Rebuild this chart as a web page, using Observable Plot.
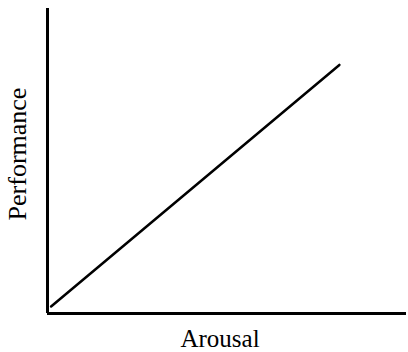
<!DOCTYPE html>
<html>
<head>
<meta charset="utf-8">
<script src="https://cdn.jsdelivr.net/npm/d3@7"></script>
<script src="https://cdn.jsdelivr.net/npm/@observablehq/plot@0.6"></script>
<style>
  html, body { margin: 0; padding: 0; background: #fff; }
  #chart svg { display: block; }
  #chart svg text { font-family: "Liberation Serif", "Times New Roman", Times, serif; }
</style>
</head>
<body>
<div id="chart"></div>
<script>
const arousal = [1, 81.3];
const performance = [2.3, 81.5];
const xLabel = "Arousal";
const yLabel = "Performance";

const data = arousal.map((a, i) => ({arousal: a, performance: performance[i]}));
const serif = "Liberation Serif";

const chart = Plot.plot({
  width: 408,
  height: 352,
  marginLeft: 47,
  marginRight: 2,
  marginTop: 8,
  marginBottom: 39,
  style: {fontFamily: serif, background: "#fff"},
  x: {domain: [0, 100], axis: null},
  y: {domain: [0, 100], axis: null},
  marks: [
    Plot.ruleX([0], {stroke: "#000", strokeWidth: 3}),
    Plot.ruleY([0], {stroke: "#000", strokeWidth: 3}),
    Plot.line(data, {x: "arousal", y: "performance", stroke: "#000", strokeWidth: 2.5}),
    Plot.text([xLabel], {frameAnchor: "bottom", textAnchor: "middle", lineAnchor: "middle", dx: -7, dy: 25, fontSize: 25, fontFamily: serif, fill: "#000"}),
    Plot.text([yLabel], {frameAnchor: "left", textAnchor: "middle", lineAnchor: "middle", dx: -30, dy: -7, rotate: -90, fontSize: 26, fontFamily: serif, fill: "#000"})
  ]
});
document.getElementById("chart").appendChild(chart);
</script>
</body>
</html>
